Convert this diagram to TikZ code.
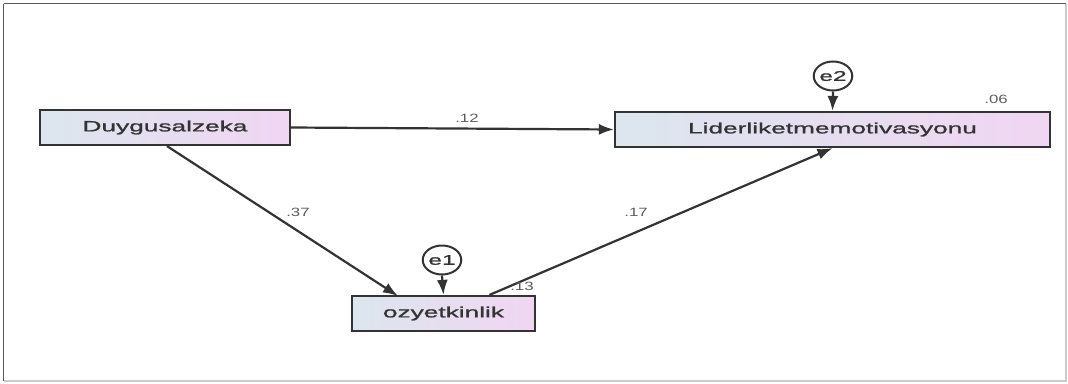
\documentclass[tikz,border=0pt]{standalone}
\usepackage{fontspec}
\setmainfont{Liberation Sans}
\newfontfamily\lblfont[FakeStretch=1.75,FakeBold=1.2]{Liberation Sans}
\newfontfamily\coeffont[FakeStretch=1.4]{Liberation Sans}
\usetikzlibrary{arrows.meta,shapes.geometric}
\definecolor{boxleft}{HTML}{DCE6EE}
\definecolor{boxright}{HTML}{F0D6F2}
\definecolor{edge}{HTML}{333333}
\tikzset{
  varbox/.style={draw=edge, line width=2.2pt, left color=boxleft, right color=boxright,
    minimum height=35pt, inner sep=0pt, font=\lblfont\fontsize{15}{15}\selectfont, text=edge},
  errc/.style={draw=edge, line width=2pt, ellipse, fill=white, minimum width=31pt, minimum height=29pt, inner sep=0pt,
    font=\lblfont\fontsize{14}{14}\selectfont, text=edge},
  path/.style={draw=edge, line width=2.2pt, -{Latex[length=15pt,width=11pt]}},
  coef/.style={font=\coeffont\fontsize{12}{12}\selectfont, text=edge!80, inner sep=0pt}
}
\begin{document}
\begin{tikzpicture}[x=1pt,y=-1pt]
\useasboundingbox (0,0) rectangle (1068,383);
\draw[draw=gray!70!black, line width=1.5pt] (3.5,3.5) -- (1066,3.5);
\draw[draw=gray!70!black, line width=1.5pt] (3.5,3.5) -- (3.5,381);
\draw[draw=gray!40, line width=1.2pt] (3.5,381) -- (1066,381) -- (1066,3.5);

\node[varbox, minimum width=250pt] (dz) at (165,127.5) {Duygusalzeka};
\node[varbox, minimum width=435pt] (lm) at (832.5,129.5) {Liderliketmemotivasyonu};
\node[varbox, minimum width=183pt] (oz) at (443.5,313.5) {ozyetkinlik};
\node[errc] (e1) at (442,260) {e1};
\node[errc] (e2) at (833,76) {e2};

\draw[path] (dz.east) -- (lm.west);
\path (dz.south) ++(2,0) coordinate (dzs);
\coordinate (ozin) at (398,296);
\draw[path] (dzs) -- (ozin);
\coordinate (ozout) at ([xshift=46pt]oz.north);
\draw[path] (ozout) -- (lm.south);
\draw[path] (e1.south) -- (oz.north);
\draw[path] (e2.south) -- (lm.north);

\node[coef] (c12) at (467,118) {.12};
\node[coef] (c06) at (996,99) {.06};
\node[coef] (c37) at (298,212) {.37};
\node[coef] (c17) at (636,212) {.17};
\node[coef] (c13) at (522,286) {.13};
\end{tikzpicture}
\end{document}
